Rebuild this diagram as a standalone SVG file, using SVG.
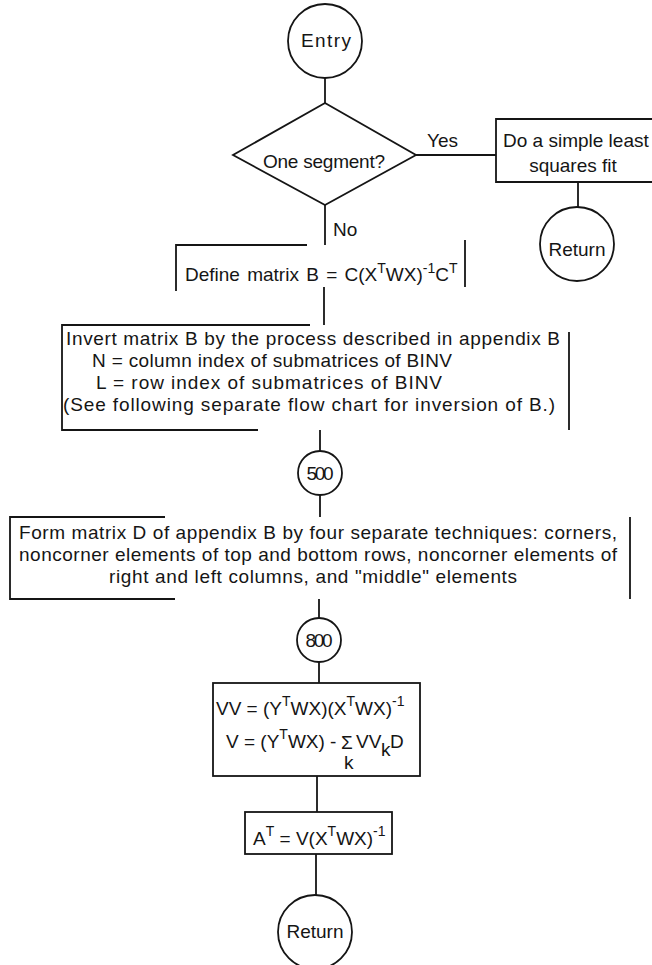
<svg xmlns="http://www.w3.org/2000/svg" width="652" height="965" viewBox="0 0 652 965">
  <style>
    .t { font-family: "Liberation Sans", Arial, sans-serif; font-size: 19px; fill: #151515; }
    .c { text-anchor: middle; }
    .sup { font-size: 14px; }
    .ln { stroke: #151515; stroke-width: 1.8; fill: none; }
  </style>
  <rect x="0" y="0" width="652" height="965" fill="#ffffff"/>

  <!-- connectors -->
  <g id="connectors" class="ln">
    <path d="M325 78 V103"/>
    <path d="M416 155 H496"/>
    <path d="M325 205 V245"/>
    <path d="M578 182 V207"/>
    <path d="M324 287 V325"/>
    <path d="M320 430 V451"/>
    <path d="M320 495 V517"/>
    <path d="M319 599 V618"/>
    <path d="M319 662 V683"/>
    <path d="M317 776 V812"/>
    <path d="M316 854 V895"/>
  </g>
  <g id="edge-labels">
    <text class="t" x="427" y="147">Yes</text>
    <text class="t" x="333" y="236">No</text>
  </g>

  <!-- start terminal -->
  <g id="entry">
    <circle class="ln" cx="325" cy="41" r="37"/>
    <text class="t c" x="326" y="47" textLength="50">Entry</text>
  </g>

  <!-- decision -->
  <g id="one-segment">
    <polygon class="ln" points="325,103 416,155 325,205 233,155"/>
    <text class="t" x="263" y="168" textLength="122">One segment?</text>
  </g>

  <!-- single segment branch -->
  <g id="least-squares">
    <path class="ln" d="M652 119 H496 V182 H652"/>
    <text class="t" x="503" y="147">Do a simple least</text>
    <text class="t c" x="573" y="172">squares fit</text>
  </g>
  <g id="return-1">
    <circle class="ln" cx="577" cy="244" r="37"/>
    <text class="t c" x="577" y="256">Return</text>
  </g>

  <!-- define B -->
  <g id="define-b">
    <path class="ln" d="M307 245 H176 V291"/>
    <path class="ln" d="M465 240 V287"/>
    <text class="t" x="185" y="281" word-spacing="2">Define matrix B = C(X<tspan class="sup" dy="-8">T</tspan><tspan dy="8">WX)</tspan><tspan class="sup" dy="-8">-1</tspan><tspan dy="8">C</tspan><tspan class="sup" dy="-8">T</tspan></text>
  </g>

  <!-- invert B -->
  <g id="invert-b">
    <path class="ln" d="M310 325 H62 V430 H258"/>
    <path class="ln" d="M569 332 V430"/>
    <text class="t" x="66" y="345" textLength="494">Invert matrix B by the process described in appendix B</text>
    <text class="t" x="92" y="367" textLength="360">N = column index of submatrices of BINV</text>
    <text class="t" x="96" y="389" textLength="346">L = row index of submatrices of BINV</text>
    <text class="t" x="63" y="411" textLength="492">(See following separate flow chart for inversion of B.)</text>
  </g>

  <g id="label-500">
    <circle class="ln" cx="320" cy="473" r="22"/>
    <text class="t c" x="320" y="480" font-size="18" textLength="27">500</text>
  </g>

  <!-- form D -->
  <g id="form-d">
    <path class="ln" d="M165 517 H10 V599 H175"/>
    <path class="ln" d="M630 517 V599"/>
    <text class="t" x="19" y="539" textLength="598">Form matrix D of appendix B by four separate techniques: corners,</text>
    <text class="t" x="19" y="561" textLength="598">noncorner elements of top and bottom rows, noncorner elements of</text>
    <text class="t" x="109" y="583" textLength="408">right and left columns, and "middle" elements</text>
  </g>

  <g id="label-800">
    <circle class="ln" cx="319" cy="640" r="22"/>
    <text class="t c" x="319" y="647" font-size="18" textLength="27">800</text>
  </g>

  <!-- VV and V -->
  <g id="compute-v">
    <rect class="ln" x="213" y="683" width="207" height="93"/>
    <text class="t" x="216" y="715">VV = (Y<tspan class="sup" dy="-9">T</tspan><tspan dy="9">WX)(X</tspan><tspan class="sup" dy="-9">T</tspan><tspan dy="9">WX)</tspan><tspan class="sup" dy="-9">-1</tspan></text>
    <text class="t" x="226" y="748">V = (Y<tspan class="sup" dy="-9">T</tspan><tspan dy="9">WX)</tspan></text>
    <text class="t" x="330" y="748">-</text>
    <text class="t" x="341" y="749" font-size="21">Σ</text>
    <text class="t" x="344" y="769" font-size="16">k</text>
    <text class="t" x="356" y="748">VV</text>
    <text class="t" x="381" y="756" font-size="14">k</text>
    <text class="t" x="390" y="748">D</text>
  </g>

  <!-- A transpose -->
  <g id="compute-a">
    <rect class="ln" x="245" y="812" width="147" height="42"/>
    <text class="t" x="253" y="845">A<tspan class="sup" dy="-9">T</tspan><tspan dy="9"> = V(X</tspan><tspan class="sup" dy="-9">T</tspan><tspan dy="9">WX)</tspan><tspan class="sup" dy="-9">-1</tspan></text>
  </g>

  <g id="return-2">
    <circle class="ln" cx="315" cy="932" r="37"/>
    <text class="t c" x="315" y="938">Return</text>
  </g>
</svg>
